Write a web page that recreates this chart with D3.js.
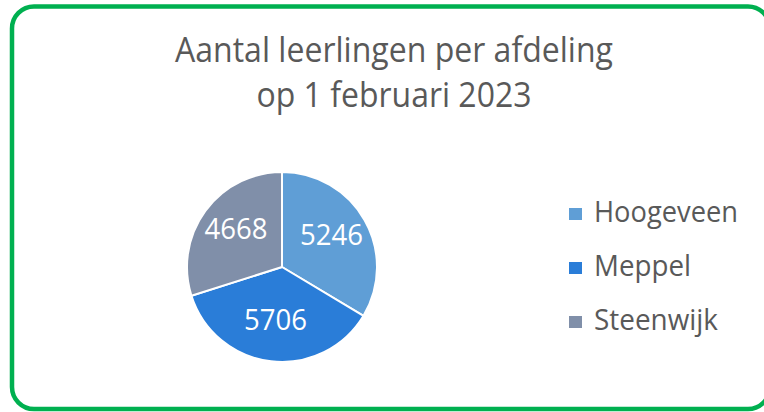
<!DOCTYPE html>
<html>
<head>
    <meta charset="utf-8">
    <title>Aantal leerlingen per afdeling</title>
    <style>
        body { margin: 0; background: #fff; }
        text { font-family: "Open Sans", sans-serif; }
    </style>
</head>
<body>
    <script src="https://cdn.jsdelivr.net/npm/d3@7/dist/d3.min.js"></script>
    <script>
        var width = 764, height = 412;

        // gegevens
        const afdelingen = ["Hoogeveen", "Meppel", "Steenwijk"];
        const leerlingen = [5246, 5706, 4668];
        const kleuren = ["#5f9ed6", "#2a7dd8", "#808fa9"];
        const titel = ["Aantal leerlingen per afdeling", "op 1 februari 2023"];

        var svg = d3.select("body").append("svg")
            .attr("width", width)
            .attr("height", height);

        // groene rand
        svg.append("rect")
            .attr("x", 12).attr("y", 6.5)
            .attr("width", 758).attr("height", 402.5)
            .attr("rx", 22).attr("ry", 22)
            .attr("fill", "white")
            .attr("stroke", "#00b050")
            .attr("stroke-width", 4.5);

        // titel
        svg.selectAll(".titel")
            .data(titel)
            .enter()
            .append("text")
            .attr("class", "titel")
            .attr("x", 394)
            .attr("y", (d, i) => 62 + i * 45)
            .attr("text-anchor", "middle")
            .attr("fill", "#595959")
            .attr("font-size", 35)
            .attr("textLength", (d, i) => i == 0 ? 438 : 275)
            .attr("lengthAdjust", "spacingAndGlyphs")
            .text(d => d);

        var color = d3.scaleOrdinal()
            .domain(afdelingen)
            .range(kleuren);

        var radius = 95;
        var pie = d3.pie().sort(null).value(d => d)(leerlingen);
        var arc = d3.arc().innerRadius(0).outerRadius(radius);
        var labelArc = d3.arc().innerRadius(radius * 0.6).outerRadius(radius * 0.6);

        var g = svg.append("g")
            .attr("transform", "translate(282,267)");

        g.selectAll("path")
            .data(pie)
            .enter()
            .append("path")
            .attr("d", arc)
            .attr("fill", (d, i) => color(afdelingen[i]))
            .attr("stroke", "white")
            .attr("stroke-width", 2);

        g.selectAll(".label")
            .data(pie)
            .enter()
            .append("text")
            .attr("class", "label")
            .attr("transform", d => "translate(" + labelArc.centroid(d) + ")")
            .attr("dy", "0.2em")
            .attr("text-anchor", "middle")
            .attr("fill", "white")
            .attr("font-size", 30)
            .attr("textLength", 63)
            .attr("lengthAdjust", "spacingAndGlyphs")
            .text(d => d.data);

        // legenda
        var legend = svg.selectAll(".legend")
            .data(afdelingen)
            .enter()
            .append("g")
            .attr("class", "legend")
            .attr("transform", (d, i) => "translate(569," + (222 + i * 54) + ")");

        legend.append("rect")
            .attr("x", 0).attr("y", -14)
            .attr("width", 13).attr("height", 12)
            .attr("fill", d => color(d));

        legend.append("text")
            .attr("x", 25)
            .attr("fill", "#595959")
            .attr("font-size", 30)
            .attr("textLength", d => d == "Hoogeveen" ? 144 : (d == "Meppel" ? 97 : 124))
            .attr("lengthAdjust", "spacingAndGlyphs")
            .text(d => d);
    </script>
</body>
</html>
